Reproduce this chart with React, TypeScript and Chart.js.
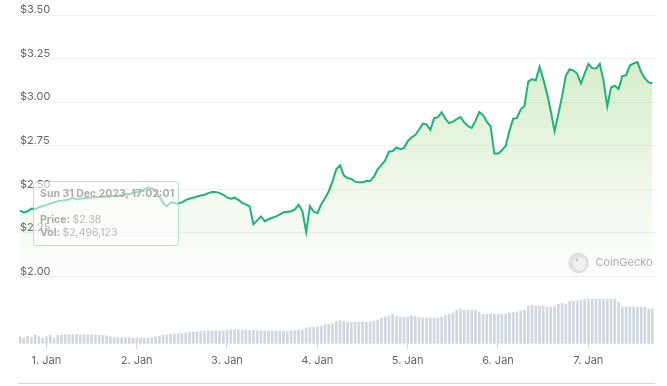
import React, { useEffect, useRef } from "react";
import { Chart, registerables } from "chart.js";

Chart.register(...registerables);

// Hours relative to 1 Jan 2024 00:00 — first point is Sun 31 Dec 2023 17:02
const START_HOUR = -6.966;

const PRICES = [
  2.378, 2.367, 2.374, 2.389, 2.386, 2.397, 2.404, 2.408, 2.42, 2.424,
  2.431, 2.435, 2.439, 2.442, 2.451, 2.442, 2.447, 2.449, 2.452, 2.453,
  2.455, 2.456, 2.457, 2.459, 2.46, 2.461, 2.463, 2.466, 2.473, 2.472,
  2.479, 2.485, 2.489, 2.5, 2.51, 2.505, 2.493, 2.459, 2.422, 2.403,
  2.425, 2.422, 2.418, 2.425, 2.438, 2.447, 2.451, 2.459, 2.464, 2.469,
  2.478, 2.485, 2.485, 2.478, 2.468, 2.454, 2.446, 2.452, 2.439, 2.422,
  2.414, 2.402, 2.3, 2.322, 2.344, 2.317, 2.328, 2.337, 2.345, 2.356,
  2.368, 2.371, 2.374, 2.385, 2.412, 2.375, 2.255, 2.402, 2.372, 2.363,
  2.414, 2.447, 2.489, 2.544, 2.615, 2.638, 2.58, 2.563, 2.56, 2.544,
  2.541, 2.541, 2.547, 2.547, 2.573, 2.615, 2.64, 2.666, 2.716, 2.72,
  2.74, 2.73, 2.738, 2.776, 2.798, 2.811, 2.843, 2.877, 2.873, 2.841,
  2.908, 2.914, 2.942, 2.904, 2.88, 2.888, 2.903, 2.915, 2.884, 2.863,
  2.852, 2.894, 2.943, 2.927, 2.886, 2.861, 2.706, 2.706, 2.723, 2.749,
  2.834, 2.905, 2.909, 2.959, 2.978, 3.118, 3.132, 3.124, 3.203, 3.132,
  3.05, 2.948, 2.834, 2.931, 3.033, 3.152, 3.189, 3.181, 3.164, 3.107,
  3.165, 3.22, 3.195, 3.193, 3.22, 3.124, 2.976, 3.084, 3.094, 3.076,
  3.149, 3.155, 3.21, 3.222, 3.23, 3.173, 3.136, 3.113, 3.108,
];

// Hourly volume, millions of USD
const VOLUMES = [
  2.5, 1.96, 2.68, 2.14, 3.04, 2.5, 1.96, 2.5, 3.04, 2.14,
  3.04, 3.21, 3.32, 3.21, 3.32, 3.32, 3.21, 3.32, 3.21, 3.32,
  3.21, 3.04, 2.96, 2.86, 2.5, 2.32, 2.25, 2.14, 2.25, 2.14,
  2.04, 2.04, 2.14, 2.04, 2.04, 2.32, 2.5, 2.68, 3.04, 3.21,
  3.39, 3.57, 3.57, 3.75, 3.93, 4.11, 4.29, 4.29, 4.46, 4.46,
  4.64, 4.64, 4.64, 4.64, 4.64, 4.82, 5.0, 5.0, 5.0, 4.82,
  5.0, 4.82, 4.82, 4.64, 4.64, 4.64, 4.64, 4.46, 4.64, 4.64,
  4.64, 4.46, 4.64, 4.64, 4.82, 5.0, 5.71, 5.89, 5.89, 6.07,
  6.43, 6.96, 7.14, 7.32, 8.04, 8.57, 8.21, 7.86, 7.86, 7.86,
  7.86, 7.86, 7.86, 7.86, 8.21, 8.57, 9.29, 9.64, 10.0, 10.61,
  9.82, 9.64, 9.54, 9.64, 10.11, 9.82, 9.46, 9.29, 9.29, 9.29,
  9.29, 9.29, 9.64, 10.18, 10.61, 11.07, 12.14, 12.5, 12.14, 12.14,
  12.14, 12.14, 11.43, 10.71, 10.71, 10.71, 10.71, 10.71, 10.71, 10.71,
  11.07, 11.25, 11.43, 11.79, 12.14, 13.57, 13.93, 13.57, 13.57, 13.57,
  13.21, 13.21, 13.57, 14.29, 14.64, 14.29, 15.36, 15.36, 15.54, 15.71,
  16.07, 16.07, 16.07, 16.07, 16.07, 16.07, 16.07, 16.07, 16.07, 15.0,
  13.21, 13.21, 13.21, 13.21, 13.21, 13.21, 13.21, 12.5, 12.5,
];

const X_TICK_HOURS = [0, 24, 48, 72, 96, 120, 144];
const X_TICK_LABELS = ["1. Jan", "2. Jan", "3. Jan", "4. Jan", "5. Jan", "6. Jan", "7. Jan"];
const Y_TICKS = [2.0, 2.25, 2.5, 2.75, 3.0, 3.25, 3.5];

const TOOLTIP_TITLE = "Sun 31 Dec 2023, 17:02:01";
const TOOLTIP_PRICE = "$2.38";
const TOOLTIP_VOL = "$2,496,123";
const WATERMARK = "CoinGecko";

const X_MIN = -7.52;
const X_MAX = 161.98;
const Y_MIN = 1.6136;
const Y_MAX = 3.5;
const VOL_MAX = 118.6;

const FONT = "'Inter', 'Noto Sans', sans-serif";
const LINE_COLOR = "#1fb377";

const extrasPlugin = {
  id: "extras",
  beforeDatasetsDraw(chart: any) {
    const ctx = chart.ctx as CanvasRenderingContext2D;
    // CoinGecko watermark
    ctx.save();
    const cx = 578.5;
    const cy = 263;
    ctx.beginPath();
    ctx.arc(cx, cy, 9.5, 0, Math.PI * 2);
    ctx.fillStyle = "#e4e4e4";
    ctx.fill();
    ctx.strokeStyle = "#d2d2d2";
    ctx.lineWidth = 1;
    ctx.stroke();
    ctx.beginPath();
    ctx.arc(cx + 1.5, cy + 1, 6.5, 0, Math.PI * 2);
    ctx.fillStyle = "#f3f3f3";
    ctx.fill();
    ctx.beginPath();
    ctx.arc(cx - 1.5, cy - 3, 1.2, 0, Math.PI * 2);
    ctx.fillStyle = "#bdbdbd";
    ctx.fill();
    ctx.fillStyle = "#b0b0b0";
    ctx.font = `11px ${FONT}`;
    ctx.textBaseline = "middle";
    ctx.textAlign = "left";
    ctx.fillText(WATERMARK, 595.5, 262.5);
    ctx.restore();
  },
  afterDraw(chart: any) {
    const ctx = chart.ctx as CanvasRenderingContext2D;
    const xs = chart.scales.x;
    const ys = chart.scales.y;
    // navigator line at the bottom
    ctx.save();
    ctx.strokeStyle = "#d6d6d6";
    ctx.lineWidth = 1;
    ctx.beginPath();
    ctx.moveTo(18, 383.5);
    ctx.lineTo(655, 383.5);
    ctx.stroke();
    ctx.restore();

    // tooltip anchored to first point
    const px = xs.getPixelForValue(START_HOUR);
    const py = ys.getPixelForValue(PRICES[0]);
    const bx = Math.round(px + 13) + 0.5;
    const by = Math.round(py - 30) + 0.5;
    const bw = 145;
    const bh = 64;
    ctx.save();
    ctx.beginPath();
    (ctx as any).roundRect(bx, by, bw, bh, 3);
    ctx.fillStyle = "rgba(255,255,255,0.55)";
    ctx.fill();
    ctx.strokeStyle = "rgba(120,205,165,0.55)";
    ctx.lineWidth = 1;
    ctx.stroke();
    ctx.textBaseline = "middle";
    ctx.textAlign = "left";
    ctx.fillStyle = "#acacac";
    ctx.font = `bold 10.5px ${FONT}`;
    ctx.fillText(TOOLTIP_TITLE, bx + 6.5, by + 12.5);
    const pl = "Price: ";
    ctx.fillText(pl, bx + 6.5, by + 38.5);
    const plw = ctx.measureText(pl).width;
    const vl = "Vol: ";
    ctx.fillText(vl, bx + 6.5, by + 51.5);
    const vlw = ctx.measureText(vl).width;
    ctx.font = `10.5px ${FONT}`;
    ctx.fillStyle = "#bababa";
    ctx.fillText(TOOLTIP_PRICE, bx + 6.5 + plw, by + 38.5);
    ctx.fillText(TOOLTIP_VOL, bx + 6.5 + vlw, by + 51.5);
    ctx.restore();
  },
};

export default function App() {
  const ref = useRef<HTMLCanvasElement>(null);

  useEffect(() => {
    const canvas = ref.current;
    if (!canvas) return;
    const chart = new Chart(canvas, {
      type: "line",
      data: {
        datasets: [
          {
            type: "line",
            label: "Price",
            data: PRICES.map((p, i) => ({ x: START_HOUR + i, y: p })),
            yAxisID: "y",
            borderColor: LINE_COLOR,
            borderWidth: 2,
            pointRadius: 0,
            tension: 0,
            fill: "start",
            order: 0,
            backgroundColor: (c: any) => {
              const ch = c.chart;
              if (!ch.chartArea || !ch.scales.y) return "rgba(0,0,0,0)";
              const top = ch.scales.y.getPixelForValue(3.25);
              const bottom = ch.scales.y.getPixelForValue(1.9);
              const g = ch.ctx.createLinearGradient(0, top, 0, bottom);
              g.addColorStop(0, "rgba(140,205,110,0.36)");
              g.addColorStop(0.6, "rgba(140,205,110,0.12)");
              g.addColorStop(1, "rgba(140,205,110,0)");
              return g;
            },
          } as any,
          {
            type: "bar",
            label: "Volume",
            data: VOLUMES.map((v, i) => ({ x: START_HOUR + i, y: v })),
            yAxisID: "yv",
            backgroundColor: "#d1d7e0",
            barThickness: 2,
            order: 1,
          } as any,
        ],
      },
      options: {
        animation: false,
        responsive: false,
        devicePixelRatio: 1,
        layout: { padding: { left: 18, right: 11, top: 15, bottom: 14 } },
        plugins: {
          legend: { display: false },
          tooltip: { enabled: false },
        },
        scales: {
          x: {
            type: "linear",
            offset: false,
            min: X_MIN,
            max: X_MAX,
            afterBuildTicks: (axis: any) => {
              axis.ticks = X_TICK_HOURS.map((v) => ({ value: v }));
            },
            afterFit: (axis: any) => {
              axis.paddingLeft = 0;
              axis.paddingRight = 0;
            },
            ticks: {
              autoSkip: false,
              maxRotation: 0,
              padding: 5,
              color: "#666",
              font: { size: 11, family: FONT },
              callback: (_v: any, i: number) => X_TICK_LABELS[i],
            },
            grid: {
              offset: false,
              drawOnChartArea: false,
              drawTicks: true,
              tickLength: 5,
              color: "#ccd6eb",
            },
            border: { display: false },
          },
          y: {
            type: "linear",
            position: "left",
            min: Y_MIN,
            max: Y_MAX,
            afterBuildTicks: (axis: any) => {
              axis.ticks = Y_TICKS.map((v) => ({ value: v }));
            },
            afterFit: (axis: any) => {
              axis.width = 0;
            },
            ticks: {
              mirror: true,
              padding: 2,
              labelOffset: -5,
              color: "#666",
              font: { size: 11, family: FONT },
              callback: (v: any) => "$" + Number(v).toFixed(2),
            },
            grid: { color: "#f0f0f0", drawTicks: false },
            border: { display: false },
          },
          yv: {
            type: "linear",
            display: false,
            min: 0,
            max: VOL_MAX,
            grid: { display: false },
          },
        },
      } as any,
      plugins: [extrasPlugin],
    });
    return () => chart.destroy();
  }, []);

  return (
    <div
      style={{
        position: "fixed",
        left: 0,
        top: 0,
        width: 667,
        height: 386,
        background: "#fff",
      }}
    >
      <canvas
        ref={ref}
        width={667}
        height={386}
        style={{ display: "block", width: 667, height: 386 }}
      />
    </div>
  );
}
